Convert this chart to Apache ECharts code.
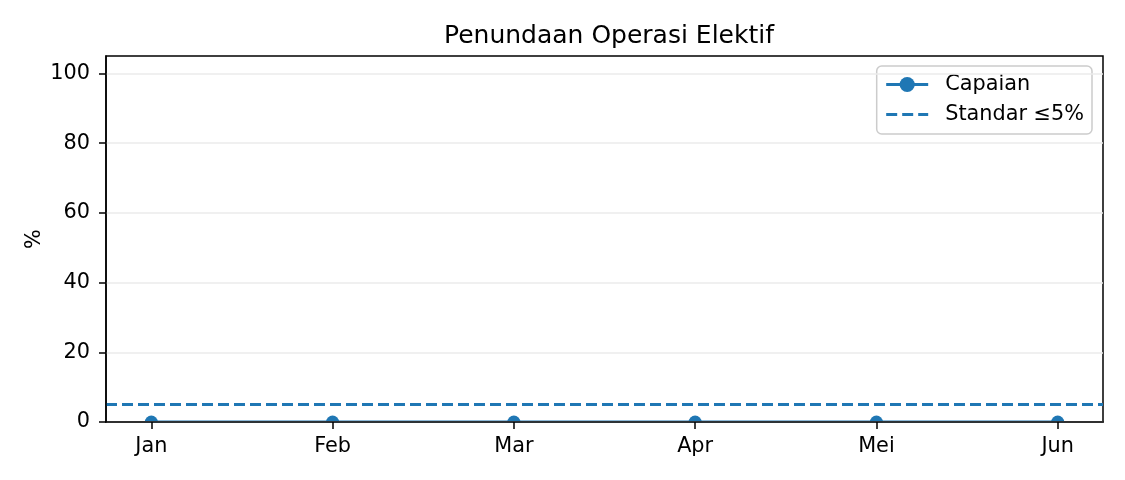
<!DOCTYPE html>
<html>
<head>
<meta charset="utf-8">
<script src="https://cdn.jsdelivr.net/npm/echarts@6/dist/echarts.min.js"></script>
<style>
  html, body { margin: 0; padding: 0; background: #fff; }
  #chart { width: 1125px; height: 480px; }
</style>
</head>
<body>
<div id="chart"></div>
<script>
// data
const bulan = ["Jan", "Feb", "Mar", "Apr", "Mei", "Jun"];
const capaian = [0, 0, 0, 0, 0, 0];
const standar = 5;
const yTicks = [0, 20, 40, 60, 80, 100];

document.addEventListener("DOMContentLoaded", function () {
  const chart = echarts.init(document.getElementById("chart"));
  const font = "DejaVu Sans";
  const biru = "#1f77b4";
  const fs = 20.8;

  const option = {
    animation: false,
    textStyle: { fontFamily: font },
    title: {
      text: "Penundaan Operasi Elektif",
      left: 604, top: 19, textAlign: "center",
      textStyle: { fontFamily: font, fontSize: 25, fontWeight: "normal", color: "#000" }
    },
    grid: {
      left: 106, right: 22, top: 56, bottom: 58,
      show: true, borderColor: "#000", borderWidth: 1.5, backgroundColor: "transparent"
    },
    legend: {
      orient: "vertical",
      right: 33, top: 66,
      padding: [8, 8, 9, 8],
      itemGap: 9,
      itemWidth: 42, itemHeight: 19,
      borderColor: "#cccccc", borderWidth: 1.5, borderRadius: 5,
      backgroundColor: "rgba(255,255,255,0.8)",
      lineStyle: { width: 3 },
      textStyle: { fontFamily: font, fontSize: fs, color: "#000", padding: [0, 0, 0, 12] },
      data: [
        { name: "Capaian" },
        { name: "Standar \u22645%", itemStyle: { opacity: 0 } }
      ]
    },
    xAxis: {
      type: "value",
      min: -0.25, max: 5.25,
      z: 10,
      axisLine: { onZero: false, lineStyle: { color: "#000", width: 1.5 } },
      axisTick: { customValues: [0, 1, 2, 3, 4, 5], length: 7, lineStyle: { color: "#000", width: 1.5 } },
      axisLabel: {
        customValues: [0, 1, 2, 3, 4, 5],
        formatter: v => bulan[Math.round(v)],
        color: "#000", fontSize: fs, fontFamily: font, margin: 14
      },
      splitLine: { show: false }
    },
    yAxis: {
      type: "value",
      min: 0, max: 105, interval: 20,
      name: "%", nameLocation: "middle", nameGap: 61, nameRotate: 90,
      nameMoveOverlap: false,
      nameTextStyle: { color: "#000", fontSize: fs, fontFamily: font },
      z: 10,
      axisLine: { show: true, onZero: false, lineStyle: { color: "#000", width: 1.5 } },
      axisTick: { show: true, customValues: yTicks, length: 7, lineStyle: { color: "#000", width: 1.5 } },
      axisLabel: { customValues: yTicks, color: "#000", fontSize: fs, fontFamily: font, margin: 16 },
      splitLine: { show: true, lineStyle: { color: "#ebebeb", width: 1.5 } }
    },
    graphic: [{
      type: "rect", z: 5,
      shape: { x: 106, y: 423, width: 998, height: 20 },
      style: { fill: "#fff" }
    }],
    series: [
      {
        name: "Capaian",
        type: "line",
        data: capaian.map((v, i) => [i, v]),
        symbol: "circle", symbolSize: 13,
        lineStyle: { color: biru, width: 3 },
        itemStyle: { color: biru },
        clip: false, z: 2
      },
      {
        name: "Standar \u22645%",
        type: "line",
        data: [[-0.25, standar], [5.25, standar]],
        symbol: "none",
        lineStyle: { color: biru, width: 3, type: [11, 5] },
        itemStyle: { color: biru },
        z: 2
      }
    ]
  };

  chart.setOption(option);
});
</script>
</body>
</html>
